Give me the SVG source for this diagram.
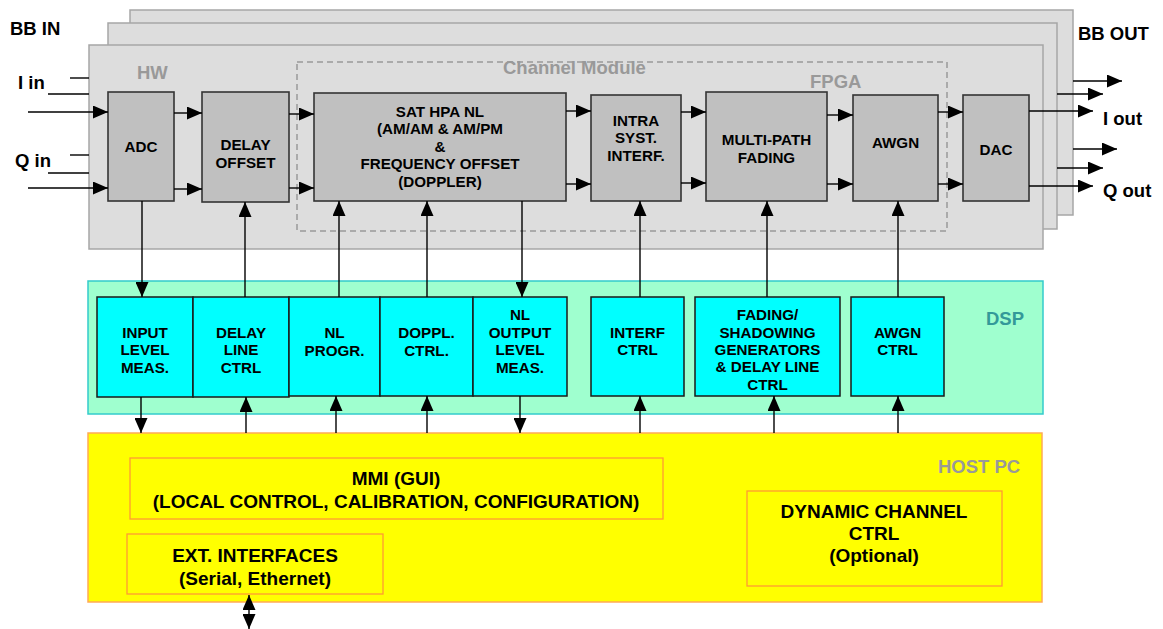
<svg xmlns="http://www.w3.org/2000/svg" width="1163" height="629" viewBox="0 0 1163 629">
<style>
text{font-family:"Liberation Sans",Arial,sans-serif;font-weight:bold;fill:#000}
.t15{font-size:15.2px;text-anchor:middle}
.t18{font-size:19px;text-anchor:middle}
.lbl{font-size:18.5px}
.gray{fill:#999999}
.panel{fill:#dddddd;stroke:#a6a6a6;stroke-width:1.5}
.blk{fill:#c0c0c0;stroke:#333333;stroke-width:1.6}
.cyan{fill:#00ffff;stroke:#1a1a1a;stroke-width:1.5}
.dsp{fill:#9fffcf;stroke:#33cccc;stroke-width:1.5}
.host{fill:#ffff00;stroke:#ffaa55;stroke-width:1.5}
.inner{fill:#ffff00;stroke:#ff9a33;stroke-width:1.3}
.dash{fill:none;stroke:#999999;stroke-width:1.5;stroke-dasharray:6,4}
.c{stroke:#000;stroke-width:1.4;fill:none}
.a{stroke:#000;stroke-width:1.4;fill:none;marker-end:url(#ah)}
</style>
<defs>
<marker id="ah" markerUnits="userSpaceOnUse" markerWidth="15" markerHeight="13" refX="15" refY="6.5" orient="auto-start-reverse" viewBox="0 0 15 13">
<path d="M0,0 L15,6.5 L0,13 z" fill="#000"/>
</marker>
</defs>

<g id="panels">
<rect class="panel" x="130" y="10" width="943" height="205"/>
<rect class="panel" x="108" y="23" width="949" height="206"/>
<rect class="panel" x="89" y="45" width="954" height="204"/>
<text class="lbl gray" x="137" y="79">HW</text>
</g>

<g id="channel-module">
<rect class="dash" x="297" y="62" width="650" height="169"/>
<text class="lbl gray" x="503" y="74">Channel Module</text>
<text class="lbl gray" x="810" y="88">FPGA</text>
</g>

<g id="io-labels">
<text class="lbl" x="10" y="35">BB IN</text>
<text class="lbl" x="18" y="89">I in</text>
<text class="lbl" x="15" y="167">Q in</text>
<text class="lbl" x="1078" y="40">BB OUT</text>
<text class="lbl" x="1103" y="125">I out</text>
<text class="lbl" x="1103" y="197">Q out</text>
</g>

<g id="adc">
<rect class="blk" x="108" y="92" width="66" height="109"/>
<text class="t15" x="141" y="152">ADC</text>
</g>
<g id="delay-offset">
<rect class="blk" x="202" y="92" width="87" height="110"/>
<text class="t15" x="245.5" y="150">DELAY</text>
<text class="t15" x="245.5" y="168">OFFSET</text>
</g>
<g id="sat-hpa">
<rect class="blk" x="314" y="93" width="252" height="108"/>
<text class="t15" x="440" y="117">SAT HPA NL</text>
<text class="t15" x="440" y="134">(AM/AM &amp; AM/PM</text>
<text class="t15" x="440" y="152">&amp;</text>
<text class="t15" x="440" y="169">FREQUENCY OFFSET</text>
<text class="t15" x="440" y="187">(DOPPLER)</text>
</g>
<g id="intra">
<rect class="blk" x="591" y="95" width="90" height="106"/>
<text class="t15" x="636" y="126">INTRA</text>
<text class="t15" x="636" y="143">SYST.</text>
<text class="t15" x="636" y="161">INTERF.</text>
</g>
<g id="multipath">
<rect class="blk" x="706" y="92" width="121" height="109"/>
<text class="t15" x="766.5" y="145">MULTI-PATH</text>
<text class="t15" x="766.5" y="163">FADING</text>
</g>
<g id="awgn">
<rect class="blk" x="853" y="95" width="85" height="106"/>
<text class="t15" x="895.5" y="148">AWGN</text>
</g>
<g id="dac">
<rect class="blk" x="963" y="95" width="66" height="106"/>
<text class="t15" x="996" y="155">DAC</text>
</g>

<g id="dsp">
<rect class="dsp" x="88" y="281" width="955" height="133"/>
<text class="lbl" x="986" y="325" style="fill:#339999">DSP</text>
</g>
<g id="input-level">
<rect class="cyan" x="97" y="297" width="96" height="100"/>
<text class="t15" x="145" y="338">INPUT</text>
<text class="t15" x="145" y="355">LEVEL</text>
<text class="t15" x="145" y="373">MEAS.</text>
</g>
<g id="delay-line">
<rect class="cyan" x="193" y="297" width="96" height="100"/>
<text class="t15" x="241" y="338">DELAY</text>
<text class="t15" x="241" y="355">LINE</text>
<text class="t15" x="241" y="373">CTRL</text>
</g>
<g id="nl-progr">
<rect class="cyan" x="289" y="297" width="91" height="99"/>
<text class="t15" x="334.5" y="338">NL</text>
<text class="t15" x="334.5" y="356">PROGR.</text>
</g>
<g id="doppl">
<rect class="cyan" x="380" y="297" width="93" height="99"/>
<text class="t15" x="426.5" y="338">DOPPL.</text>
<text class="t15" x="426.5" y="356">CTRL.</text>
</g>
<g id="nl-output">
<rect class="cyan" x="473" y="297" width="94" height="99"/>
<text class="t15" x="520" y="320">NL</text>
<text class="t15" x="520" y="338">OUTPUT</text>
<text class="t15" x="520" y="355">LEVEL</text>
<text class="t15" x="520" y="373">MEAS.</text>
</g>
<g id="interf-ctrl">
<rect class="cyan" x="591" y="297" width="93" height="99"/>
<text class="t15" x="637.5" y="338">INTERF</text>
<text class="t15" x="637.5" y="355">CTRL</text>
</g>
<g id="fading-ctrl">
<rect class="cyan" x="695" y="297" width="145" height="99"/>
<text class="t15" x="767.5" y="320">FADING/</text>
<text class="t15" x="767.5" y="338">SHADOWING</text>
<text class="t15" x="767.5" y="355">GENERATORS</text>
<text class="t15" x="767.5" y="372">&amp; DELAY LINE</text>
<text class="t15" x="767.5" y="390">CTRL</text>
</g>
<g id="awgn-ctrl">
<rect class="cyan" x="851" y="297" width="93" height="99"/>
<text class="t15" x="897.5" y="338">AWGN</text>
<text class="t15" x="897.5" y="355">CTRL</text>
</g>

<g id="host-pc">
<rect class="host" x="88" y="433" width="954" height="169"/>
<text class="lbl gray" x="938" y="473">HOST PC</text>
</g>
<g id="mmi">
<rect class="inner" x="130" y="458" width="533" height="61"/>
<text class="t18" x="396" y="485">MMI (GUI)</text>
<text class="t18" x="396" y="508">(LOCAL CONTROL, CALIBRATION, CONFIGURATION)</text>
</g>
<g id="ext-interfaces">
<rect class="inner" x="127" y="534" width="256" height="60"/>
<text class="t18" x="255" y="562">EXT. INTERFACES</text>
<text class="t18" x="255" y="585">(Serial, Ethernet)</text>
</g>
<g id="dynamic-channel">
<rect class="inner" x="747" y="491" width="255" height="95"/>
<text class="t18" x="874" y="518">DYNAMIC CHANNEL</text>
<text class="t18" x="874" y="540">CTRL</text>
<text class="t18" x="874" y="562">(Optional)</text>
</g>

<g id="connectors">
<line class="c" x1="70" y1="78" x2="89" y2="78"/>
<line class="c" x1="48" y1="94" x2="89" y2="94"/>
<line class="a" x1="28" y1="112" x2="108" y2="112"/>
<line class="c" x1="70" y1="155" x2="89" y2="155"/>
<line class="c" x1="48" y1="173" x2="89" y2="173"/>
<line class="a" x1="28" y1="188" x2="108" y2="188"/>
<line class="a" x1="174" y1="113" x2="202" y2="113"/>
<line class="a" x1="174" y1="189" x2="202" y2="189"/>
<line class="a" x1="289" y1="114" x2="314" y2="114"/>
<line class="a" x1="289" y1="188" x2="314" y2="188"/>
<line class="a" x1="566" y1="111" x2="591" y2="111"/>
<line class="a" x1="566" y1="184" x2="591" y2="184"/>
<line class="a" x1="681" y1="112" x2="706" y2="112"/>
<line class="a" x1="681" y1="183" x2="706" y2="183"/>
<line class="a" x1="827" y1="115" x2="853" y2="115"/>
<line class="a" x1="827" y1="184" x2="853" y2="184"/>
<line class="a" x1="938" y1="112" x2="963" y2="112"/>
<line class="a" x1="938" y1="184" x2="963" y2="184"/>
<line class="a" x1="1073" y1="81" x2="1122" y2="81"/>
<line class="a" x1="1057" y1="94" x2="1103" y2="94"/>
<line class="a" x1="1029" y1="111" x2="1093" y2="111"/>
<line class="a" x1="1073" y1="149" x2="1117" y2="149"/>
<line class="a" x1="1057" y1="168" x2="1103" y2="168"/>
<line class="a" x1="1029" y1="186" x2="1093" y2="186"/>
<line class="a" x1="142" y1="201" x2="142" y2="297"/>
<line class="a" x1="245" y1="297" x2="245" y2="202"/>
<line class="a" x1="339" y1="297" x2="339" y2="201"/>
<line class="a" x1="427" y1="297" x2="427" y2="201"/>
<line class="a" x1="522" y1="201" x2="522" y2="297"/>
<line class="a" x1="640" y1="297" x2="640" y2="201"/>
<line class="a" x1="767" y1="297" x2="767" y2="201"/>
<line class="a" x1="898" y1="297" x2="898" y2="201"/>
<line class="a" x1="141" y1="397" x2="141" y2="433"/>
<line class="a" x1="246" y1="433" x2="246" y2="397"/>
<line class="a" x1="336" y1="433" x2="336" y2="396"/>
<line class="a" x1="427" y1="433" x2="427" y2="396"/>
<line class="a" x1="520" y1="396" x2="520" y2="433"/>
<line class="a" x1="640" y1="433" x2="640" y2="396"/>
<line class="a" x1="774" y1="433" x2="774" y2="396"/>
<line class="a" x1="898" y1="433" x2="898" y2="396"/>
<line class="a" x1="249" y1="595" x2="249" y2="629" style="marker-start:url(#ah)"/>
</g>
</svg>
